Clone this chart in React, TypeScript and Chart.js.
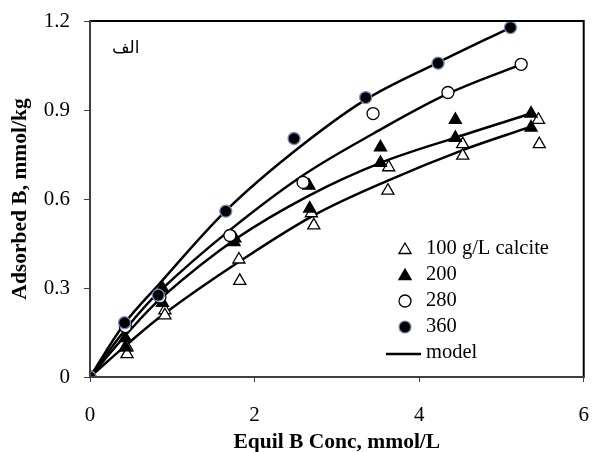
import { useEffect, useRef } from 'react';
import { Chart, registerables } from 'chart.js';

Chart.register(...registerables);

const FONT = '"Liberation Serif", "Times New Roman", serif';

// Observed data (Equil B Conc, mmol/L  vs  Adsorbed B, mmol/kg)
const x100 = [0, 0.45, 0.45, 0.91, 0.91, 1.81, 1.82, 2.69, 2.72, 3.63, 3.62, 4.53, 4.53, 5.45, 5.46];
const y100 = [0, 0.10, 0.077, 0.225, 0.208, 0.396, 0.324, 0.552, 0.511, 0.707, 0.628, 0.785, 0.746, 0.867, 0.785];

const x200 = [0, 0.43, 0.43, 0.88, 0.88, 1.76, 1.75, 2.66, 2.67, 3.53, 3.53, 4.44, 4.44, 5.36, 5.36];
const y200 = [0, 0.131, 0.10, 0.30, 0.25, 0.467, 0.455, 0.645, 0.568, 0.774, 0.722, 0.867, 0.806, 0.888, 0.841];

const x280 = [0, 0.43, 0.85, 1.70, 2.59, 3.44, 4.35, 5.24];
const y280 = [0, 0.17, 0.27, 0.477, 0.656, 0.888, 0.959, 1.054];

const x360 = [0, 0.42, 0.83, 1.65, 2.48, 3.35, 4.23, 5.11];
const y360 = [0, 0.183, 0.276, 0.559, 0.804, 0.942, 1.058, 1.178];

// Model curves
const mx100 = [0, 0.45, 0.91, 1.82, 2.72, 3.62, 4.53, 5.36];
const my100 = [0, 0.11, 0.215, 0.39, 0.545, 0.662, 0.765, 0.844];
const mx200 = [0, 0.43, 0.88, 1.77, 2.65, 3.53, 4.44, 5.36];
const my200 = [0, 0.14, 0.27, 0.465, 0.61, 0.722, 0.807, 0.888];
const mx280 = [0, 0.43, 0.85, 1.70, 2.59, 3.44, 4.35, 5.24];
const my280 = [0, 0.16, 0.29, 0.495, 0.68, 0.82, 0.955, 1.054];
const mx360 = [0, 0.42, 0.83, 1.65, 2.48, 3.35, 4.23, 5.11];
const my360 = [0, 0.18, 0.31, 0.56, 0.76, 0.935, 1.06, 1.178];

const xTicks = [0, 2, 4, 6];
const yTicks = [0, 0.3, 0.6, 0.9, 1.2];

const legendLabels = ['100 g/L calcite', '200', '280', '360', 'model'];
const panelLabel = 'الف';
const xTitle = 'Equil B Conc, mmol/L';
const yTitle = 'Adsorbed B, mmol/kg';

const pts = (xs: number[], ys: number[]) => xs.map((x, i) => ({ x, y: ys[i] }));

const CIRCLE_EDGE = '#6f8fc0';

function drawMarker(ctx: CanvasRenderingContext2D, kind: number, x: number, y: number) {
  ctx.save();
  if (kind === 0 || kind === 1) {
    const r = 7;
    ctx.beginPath();
    for (let k = 0; k < 3; k++) {
      const a = (k * 2 * Math.PI) / 3;
      const px = x + Math.sin(a) * r;
      const py = y - Math.cos(a) * r;
      if (k === 0) ctx.moveTo(px, py);
      else ctx.lineTo(px, py);
    }
    ctx.closePath();
    ctx.fillStyle = kind === 0 ? '#ffffff' : '#000000';
    ctx.fill();
    ctx.lineWidth = 1.3;
    ctx.strokeStyle = '#000000';
    ctx.stroke();
  } else {
    ctx.beginPath();
    ctx.arc(x, y, 6, 0, Math.PI * 2);
    ctx.fillStyle = kind === 2 ? '#ffffff' : '#000000';
    ctx.fill();
    ctx.lineWidth = kind === 2 ? 1.3 : 1.2;
    ctx.strokeStyle = kind === 2 ? '#000000' : CIRCLE_EDGE;
    ctx.stroke();
  }
  ctx.restore();
}

const decorPlugin = {
  id: 'decor',
  afterDraw(chart: any) {
    const { ctx, chartArea } = chart;
    const { left, right, top, bottom } = chartArea;
    ctx.save();
    // frame
    ctx.lineCap = 'square';
    ctx.strokeStyle = '#000000';
    ctx.lineWidth = 2;
    ctx.beginPath();
    ctx.moveTo(left, top);
    ctx.lineTo(right, top);
    ctx.lineTo(right, bottom);
    ctx.stroke();
    ctx.strokeStyle = '#404040';
    ctx.beginPath();
    ctx.moveTo(left, top);
    ctx.lineTo(left, bottom);
    ctx.lineTo(right, bottom);
    ctx.stroke();

    // panel label
    ctx.fillStyle = '#000';
    ctx.font = '17px "DejaVu Sans", "Noto Sans", sans-serif';
    ctx.textAlign = 'left';
    ctx.textBaseline = 'middle';
    ctx.fillText(panelLabel, left + 22, top + 28);

    // legend
    const mx = 405;
    const tx = 426;
    const rows = [249, 275, 301, 327, 353];
    ctx.font = `20.5px ${FONT}`;
    legendLabels.forEach((lab, i) => {
      const y = rows[i];
      if (i < 4) {
        drawMarker(ctx, i, mx, y + (i < 2 ? 1 : 0));
      } else {
        ctx.strokeStyle = '#000';
        ctx.lineWidth = 2.5;
        ctx.lineCap = 'butt';
        ctx.beginPath();
        ctx.moveTo(386, y + 1);
        ctx.lineTo(421, y + 1);
        ctx.stroke();
      }
      ctx.fillStyle = '#000';
      ctx.textAlign = 'left';
      ctx.textBaseline = 'middle';
      ctx.fillText(lab, tx, y);
    });

    // axis titles
    ctx.font = `bold 21.5px ${FONT}`;
    ctx.textAlign = 'center';
    ctx.textBaseline = 'middle';
    ctx.fillText(xTitle, (left + right) / 2, 442);
    ctx.translate(20, (top + bottom) / 2);
    ctx.rotate(-Math.PI / 2);
    ctx.fillText(yTitle, 0, 0);
    ctx.restore();
  },
};

export default function App() {
  const ref = useRef<HTMLCanvasElement | null>(null);

  useEffect(() => {
    document.body.style.margin = '0';
    const canvas = ref.current;
    if (!canvas) return;

    const scatterDs = (data: any, bg: string, border: string, style: string, radius: number) => ({
      type: 'scatter' as const,
      data,
      showLine: false,
      pointStyle: style,
      pointRadius: radius,
      pointBackgroundColor: bg,
      pointBorderColor: border,
      pointBorderWidth: 1.3,
      pointHoverRadius: radius,
    });
    const lineDs = (data: any) => ({
      type: 'scatter' as const,
      data,
      showLine: true,
      borderColor: '#000000',
      borderWidth: 2.5,
      pointRadius: 0,
      pointHoverRadius: 0,
      tension: 0.35,
      fill: false,
    });

    const chart = new Chart(canvas, {
      type: 'scatter',
      data: {
        datasets: [
          scatterDs(pts(x360, y360), '#000000', CIRCLE_EDGE, 'circle', 6),
          scatterDs(pts(x280, y280), '#ffffff', '#000000', 'circle', 6),
          scatterDs(pts(x200, y200), '#000000', '#000000', 'triangle', 7),
          scatterDs(pts(x100, y100), '#ffffff', '#000000', 'triangle', 7),
          lineDs(pts(mx360, my360)),
          lineDs(pts(mx280, my280)),
          lineDs(pts(mx200, my200)),
          lineDs(pts(mx100, my100)),
        ] as any,
      },
      options: {
        animation: false,
        responsive: false,
        maintainAspectRatio: false,
        layout: { padding: { top: 21, right: 6, left: 0, bottom: 0 } },
        plugins: { legend: { display: false }, tooltip: { enabled: false } },
        scales: {
          x: {
            type: 'linear',
            min: 0,
            max: 6,
            afterBuildTicks: (s: any) => {
              s.ticks = xTicks.map((v) => ({ value: v }));
            },
            afterFit: (s: any) => {
              s.height = 75;
              s.paddingLeft = 0;
              s.paddingRight = 0;
            },
            grid: { display: true, drawOnChartArea: false, drawTicks: true, tickLength: 5, color: '#404040', lineWidth: 1 },
            border: { display: false },
            ticks: {
              color: '#000',
              padding: 21,
              font: { family: FONT, size: 21 },
              maxRotation: 0,
              callback: (v: any) => String(v),
            },
          },
          y: {
            type: 'linear',
            min: 0,
            max: 1.2,
            afterBuildTicks: (s: any) => {
              s.ticks = yTicks.map((v) => ({ value: v }));
            },
            afterFit: (s: any) => {
              s.width = 90;
              s.paddingTop = 0;
              s.paddingBottom = 0;
            },
            grid: { display: true, drawOnChartArea: false, drawTicks: true, tickLength: 6, color: '#404040', lineWidth: 1 },
            border: { display: false },
            ticks: {
              color: '#000',
              padding: 14,
              font: { family: FONT, size: 21 },
              callback: (v: any) => (v === 0 ? '0' : Number(v).toFixed(1)),
            },
          },
        },
      },
      plugins: [decorPlugin],
    });

    return () => chart.destroy();
  }, []);

  return (
    <div style={{ position: 'relative', width: 592, height: 452 }}>
      <canvas ref={ref} width={592} height={452} style={{ display: 'block', width: 592, height: 452 }} />
    </div>
  );
}
